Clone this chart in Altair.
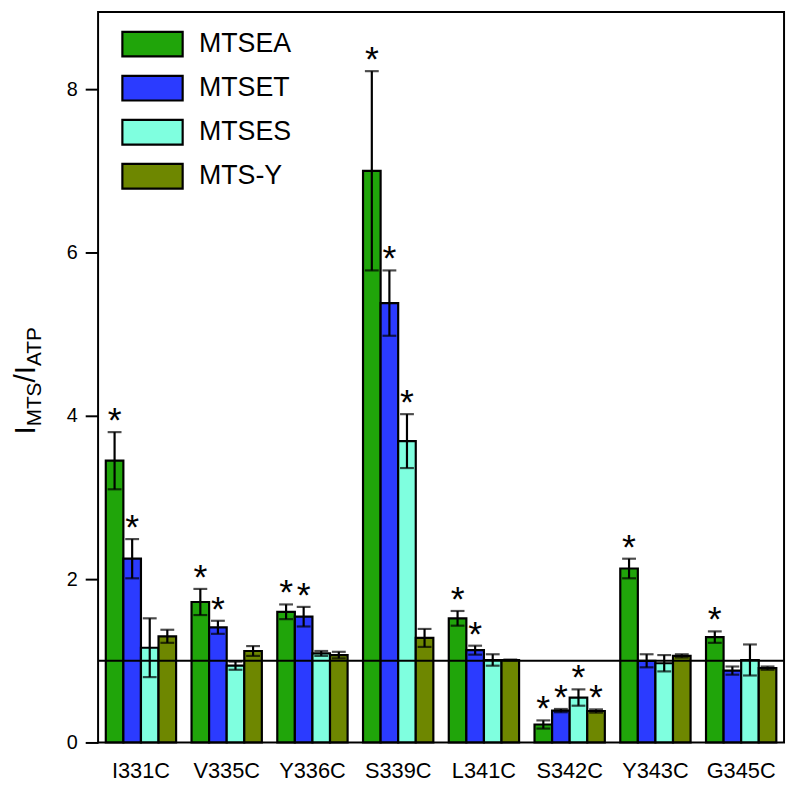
import altair as alt
import pandas as pd

groups = ["I331C", "V335C", "Y336C", "S339C", "L341C", "S342C", "Y343C", "G345C"]
series = ["MTSEA", "MTSET", "MTSES", "MTS-Y"]
colors = ["#20A50A", "#2B3BFF", "#7FFFDF", "#6E8700"]

mtsea = [3.45, 1.72, 1.60, 7.00, 1.52, 0.22, 2.13, 1.29]
mtsea_err = [0.35, 0.16, 0.09, 1.22, 0.09, 0.05, 0.12, 0.07]
mtset = [2.25, 1.41, 1.54, 5.38, 1.13, 0.39, 1.00, 0.88]
mtset_err = [0.24, 0.08, 0.12, 0.40, 0.055, 0.02, 0.08, 0.05]
mtses = [1.16, 0.94, 1.09, 3.69, 1.01, 0.55, 0.97, 1.01]
mtses_err = [0.36, 0.05, 0.03, 0.33, 0.07, 0.10, 0.10, 0.19]
mtsy = [1.30, 1.12, 1.07, 1.28, 1.01, 0.385, 1.06, 0.91]
mtsy_err = [0.08, 0.06, 0.04, 0.11, 0.005, 0.02, 0.02, 0.02]

sig_mtsea = [1, 1, 1, 1, 1, 1, 1, 1]
sig_mtset = [1, 1, 1, 1, 1, 1, 0, 0]
sig_mtses = [0, 0, 0, 1, 0, 1, 0, 0]
sig_mtsy = [0, 0, 0, 0, 0, 1, 0, 0]

ref_value = [1.0]
y_ticks = [0, 2, 4, 6, 8]

vals = [mtsea, mtset, mtses, mtsy]
errs = [mtsea_err, mtset_err, mtses_err, mtsy_err]
sigs = [sig_mtsea, sig_mtset, sig_mtses, sig_mtsy]

rows = []
for si, s in enumerate(series):
    for gi, g in enumerate(groups):
        v = vals[si][gi]
        e = errs[si][gi]
        rows.append({"group": g, "series": s, "value": v,
                     "lo": v - e, "hi": v + e, "sig": sigs[si][gi]})
df = pd.DataFrame(rows)
stars = df[df["sig"] == 1]

FONT = "Arial"

x = alt.X("group:N", sort=groups,
          scale=alt.Scale(paddingInner=0.18, paddingOuter=0.09),
          axis=alt.Axis(title=None, labelAngle=0, ticks=False, domain=False,
                        labelFontSize=22, labelFont=FONT, labelColor="black",
                        labelPadding=18))
xo = alt.XOffset("series:N", sort=series,
                 scale=alt.Scale(paddingInner=0, paddingOuter=0))
yscale = alt.Scale(domain=[0, 8.945], nice=False, zero=True)

bars = alt.Chart(df).mark_bar(stroke="black", strokeWidth=2.2).encode(
    x=x, xOffset=xo,
    y=alt.Y("value:Q", scale=yscale,
            axis=alt.Axis(title=None, values=y_ticks, format="d", grid=False,
                          domain=False, tickSize=13, tickWidth=2, tickColor="black",
                          labelFontSize=20, labelFont=FONT, labelColor="black",
                          labelPadding=8)),
    color=alt.Color("series:N", sort=series,
                    scale=alt.Scale(domain=series, range=colors),
                    legend=alt.Legend(title=None, orient="none", legendX=38.5, legendY=16,
                                      symbolType="M-2.03,-0.83H2.03V0.83H-2.03Z",
                                      symbolSize=900, symbolStrokeColor="black",
                                      symbolStrokeWidth=2.2, symbolOpacity=1,
                                      labelFontSize=27, labelFont=FONT,
                                      labelColor="black", labelOffset=30.5,
                                      rowPadding=9.5, padding=0)),
)

rules = alt.Chart(df).mark_rule(color="black", strokeWidth=2.2).encode(
    x=x, xOffset=xo, y=alt.Y("lo:Q", scale=yscale), y2="hi:Q")
cap_hi = alt.Chart(df).mark_tick(color="black", thickness=2.2, size=14,
                                 orient="horizontal").encode(
    x=x, xOffset=xo, y=alt.Y("hi:Q", scale=yscale))
cap_lo = alt.Chart(df).mark_tick(color="black", thickness=2.2, size=14,
                                 orient="horizontal").encode(
    x=x, xOffset=xo, y=alt.Y("lo:Q", scale=yscale))

star_marks = alt.Chart(stars).mark_text(text="*", fontSize=36, font=FONT,
                                        color="black", baseline="alphabetic",
                                        dy=0).encode(
    x=x, xOffset=xo, y=alt.Y("hi:Q", scale=yscale))

ref = alt.Chart(pd.DataFrame({"ref": ref_value})).mark_rule(
    color="black", strokeWidth=2).encode(y=alt.Y("ref:Q", scale=yscale))

# y axis title I_MTS / I_ATP with subscripts
B, S = 30, 21
title_pieces = [("I", B, 0), ("MTS", S, 6), ("/", B, 0), ("I", B, 0), ("ATP", S, 6)]
adv = {"I": 0.278, "/": 0.278, "MTS": 2.111, "ATP": 1.945}
title_layers = []
ypos = 427.0
one = pd.DataFrame({"a": [0]})
for t, fs, shift in title_pieces:
    title_layers.append(
        alt.Chart(one).mark_text(text=t, fontSize=fs, font=FONT, color="black",
                                 angle=270, align="left", baseline="alphabetic").encode(
            x=alt.value(-64 + shift), y=alt.value(ypos)))
    ypos -= adv[t] * fs

chart = alt.layer(bars, rules, cap_hi, cap_lo, star_marks, ref, *title_layers).properties(
    width=693, height=738,
    autosize=alt.AutoSizeParams(type="none"),
    padding={"left": 91, "top": 0, "right": 4, "bottom": 40},
).configure(
    background="white",
    view=alt.ViewConfig(stroke="black", strokeWidth=2),
)

chart.save("out.html", embed_options={"renderer": "svg", "actions": False})
